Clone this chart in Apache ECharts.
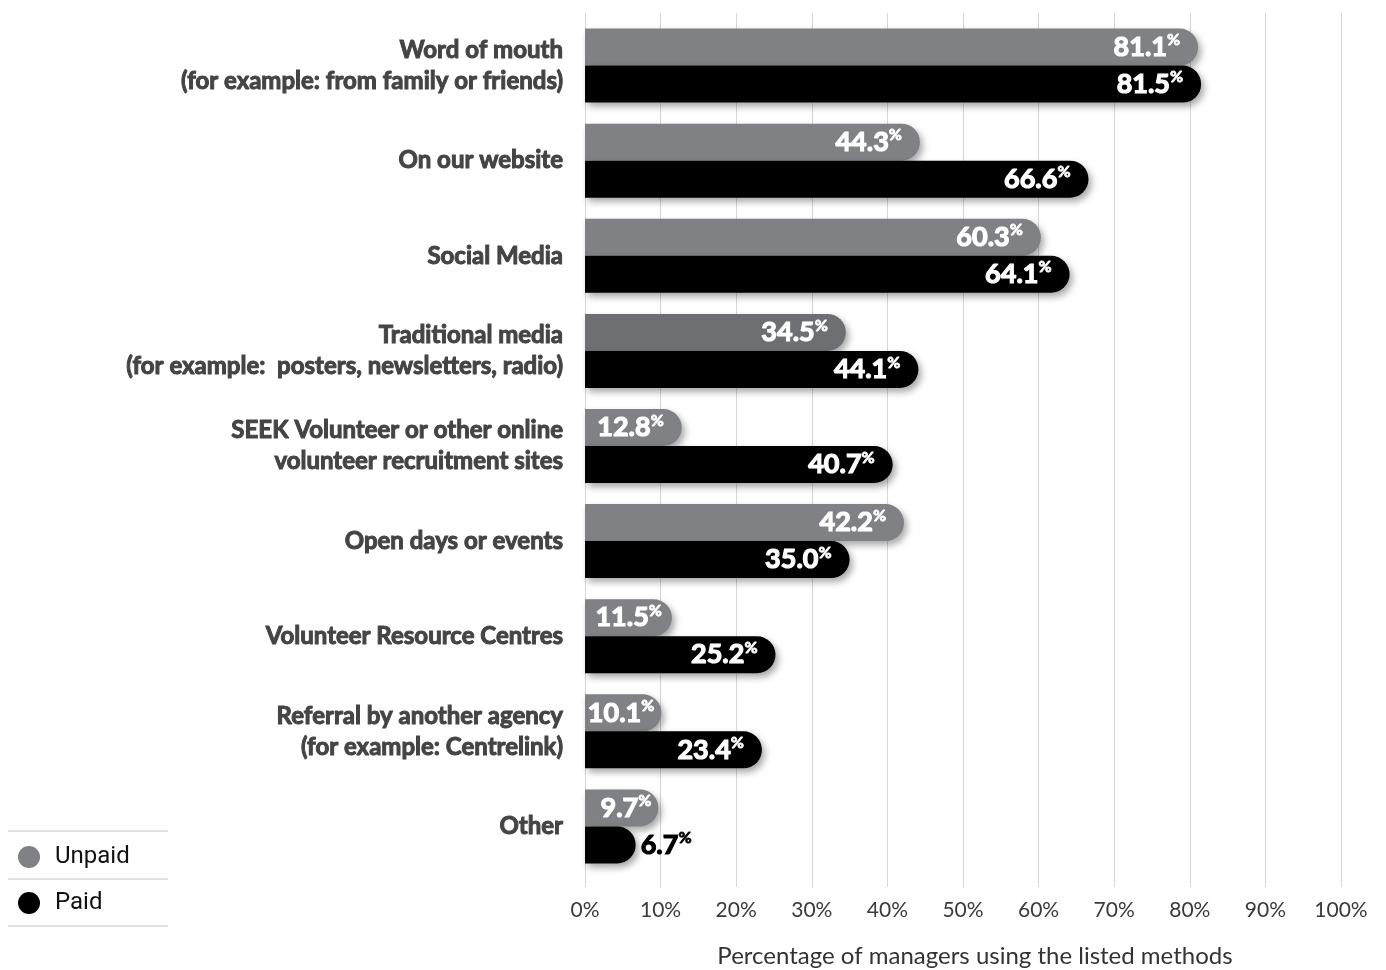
<!DOCTYPE html>
<html>
<head>
<meta charset="utf-8">
<title>Recruitment methods</title>
<script src="https://cdn.jsdelivr.net/npm/echarts@6/dist/echarts.min.js"></script>
<style>
  html, body { margin: 0; padding: 0; background: #fff; }
  #chart { width: 1386px; height: 970px; }
</style>
</head>
<body>
<div id="chart"></div>
<script>
// Recruitment methods used by managers, unpaid vs paid roles (percent)
const categories = [
  'Word of mouth\n(for example: from family or friends)',
  'On our website',
  'Social Media',
  'Traditional media\n(for example:  posters, newsletters, radio)',
  'SEEK Volunteer or other online\nvolunteer recruitment sites',
  'Open days or events',
  'Volunteer Resource Centres',
  'Referral by another agency\n(for example: Centrelink)',
  'Other'
];
const unpaid = [81.1, 44.3, 60.3, 34.5, 12.8, 42.2, 11.5, 10.1, 9.7];
const paid = [81.5, 66.6, 64.1, 44.1, 40.7, 35.0, 25.2, 23.4, 6.7];
const seriesNames = ['Unpaid', 'Paid'];
const xTicks = [0, 10, 20, 30, 40, 50, 60, 70, 80, 90, 100];
const xAxisTitle = 'Percentage of managers using the listed methods';

const FONT = "Lato, Roboto, 'Liberation Sans', sans-serif";
const GRAY = '#808184';
const GRAY_DARK = '#6e6f72';
const BLACK = '#000000';
const LABEL_COLOR = '#444444';

const shadow = {
  shadowBlur: 7,
  shadowColor: 'rgba(0,0,0,0.35)',
  shadowOffsetX: 3,
  shadowOffsetY: 4
};

// heavy value text: bold face thickened with a same-colour outline
const valueRich = (color) => ({
  v: { fontFamily: FONT, fontSize: 27, fontWeight: 'bold', color: color, lineHeight: 30,
       textBorderColor: color, textBorderWidth: 1.2 },
  p: { fontFamily: FONT, fontSize: 16, fontWeight: 'bold', color: color, lineHeight: 18, verticalAlign: 'top',
       textBorderColor: color, textBorderWidth: 0.8 }
});

const labelFmt = (p) => '{v|' + p.value.toFixed(1) + '}{p|%}';

function unpaidItem(v, i) {
  const item = { value: v };
  if (i === 3) item.itemStyle = { color: GRAY_DARK };
  if (v < 12) item.label = { distance: v < 11 ? 7 : 10 };
  return item;
}

function paidItem(v) {
  const item = { value: v };
  if (v < 10) {
    item.label = {
      position: 'right',
      distance: 5,
      rich: valueRich('#000')
    };
  }
  return item;
}

const chart = echarts.init(document.getElementById('chart'), null, { renderer: 'canvas' });

chart.setOption({
  animation: false,
  backgroundColor: '#ffffff',
  grid: { left: 585, right: 45, top: 18, height: 856, outerBoundsMode: 'none', containLabel: false },
  legend: {
    orient: 'vertical',
    left: 13,
    top: 840,
    itemWidth: 22,
    itemHeight: 22,
    itemGap: 22,
    icon: 'circle',
    textStyle: {
      fontFamily: "Roboto, 'Noto Sans', sans-serif",
      fontSize: 24,
      color: '#111',
      padding: [0, 0, 0, 10]
    },
    data: seriesNames
  },
  xAxis: [
    {
      type: 'value',
      min: xTicks[0],
      max: xTicks[xTicks.length - 1],
      interval: 10,
      position: 'bottom',
      axisLine: { show: false },
      axisTick: { show: true, length: 13, lineStyle: { color: '#d6d6d6', width: 1 } },
      splitLine: { show: true, lineStyle: { color: '#d6d6d6', width: 1 } },
      axisLabel: {
        formatter: '{value}%',
        fontFamily: FONT,
        fontWeight: 'normal',
        fontSize: 21,
        color: '#3a3a3a',
        margin: 26
      },
      name: xAxisTitle,
      nameLocation: 'middle',
      nameGap: 70,
      nameTextStyle: {
        fontFamily: FONT,
        fontWeight: 'normal',
        fontSize: 24,
        color: '#333',
        padding: [0, 0, 0, 24]
      }
    },
    {
      type: 'value',
      min: xTicks[0],
      max: xTicks[xTicks.length - 1],
      interval: 10,
      position: 'top',
      axisLine: { show: false },
      axisTick: { show: true, length: 5, lineStyle: { color: '#d6d6d6', width: 1 } },
      axisLabel: { show: false },
      splitLine: { show: false }
    }
  ],
  yAxis: {
    type: 'category',
    inverse: true,
    data: categories,
    axisLine: { show: false },
    axisTick: { show: false },
    axisLabel: {
      fontFamily: FONT,
      fontSize: 24,
      fontWeight: 'bold',
      color: LABEL_COLOR,
      textBorderColor: LABEL_COLOR,
      textBorderWidth: 1,
      lineHeight: 31,
      margin: 22,
      align: 'right'
    }
  },
  series: [
    {
      name: seriesNames[0],
      type: 'bar',
      barWidth: 37,
      barGap: '0%',
      data: unpaid.map(unpaidItem),
      itemStyle: Object.assign({ color: GRAY, borderRadius: [0, 18.5, 18.5, 0] }, shadow),
      label: {
        show: true,
        position: 'insideRight',
        distance: 18,
        formatter: labelFmt,
        rich: valueRich('#ffffff')
      },
      z: 2
    },
    {
      name: seriesNames[1],
      type: 'bar',
      barWidth: 37,
      barGap: '0%',
      data: paid.map(paidItem),
      itemStyle: Object.assign({ color: BLACK, borderRadius: [0, 18.5, 18.5, 0] }, shadow),
      label: {
        show: true,
        position: 'insideRight',
        distance: 18,
        formatter: labelFmt,
        rich: valueRich('#ffffff')
      },
      z: 3
    }
  ],
  graphic: [
    { type: 'line', shape: { x1: 8, y1: 831, x2: 168, y2: 831 }, style: { stroke: '#d8d8d8', lineWidth: 1.5 } },
    { type: 'line', shape: { x1: 8, y1: 879, x2: 168, y2: 879 }, style: { stroke: '#d8d8d8', lineWidth: 1.5 } },
    { type: 'line', shape: { x1: 8, y1: 926, x2: 168, y2: 926 }, style: { stroke: '#d8d8d8', lineWidth: 1.5 } }
  ]
});
</script>
</body>
</html>
